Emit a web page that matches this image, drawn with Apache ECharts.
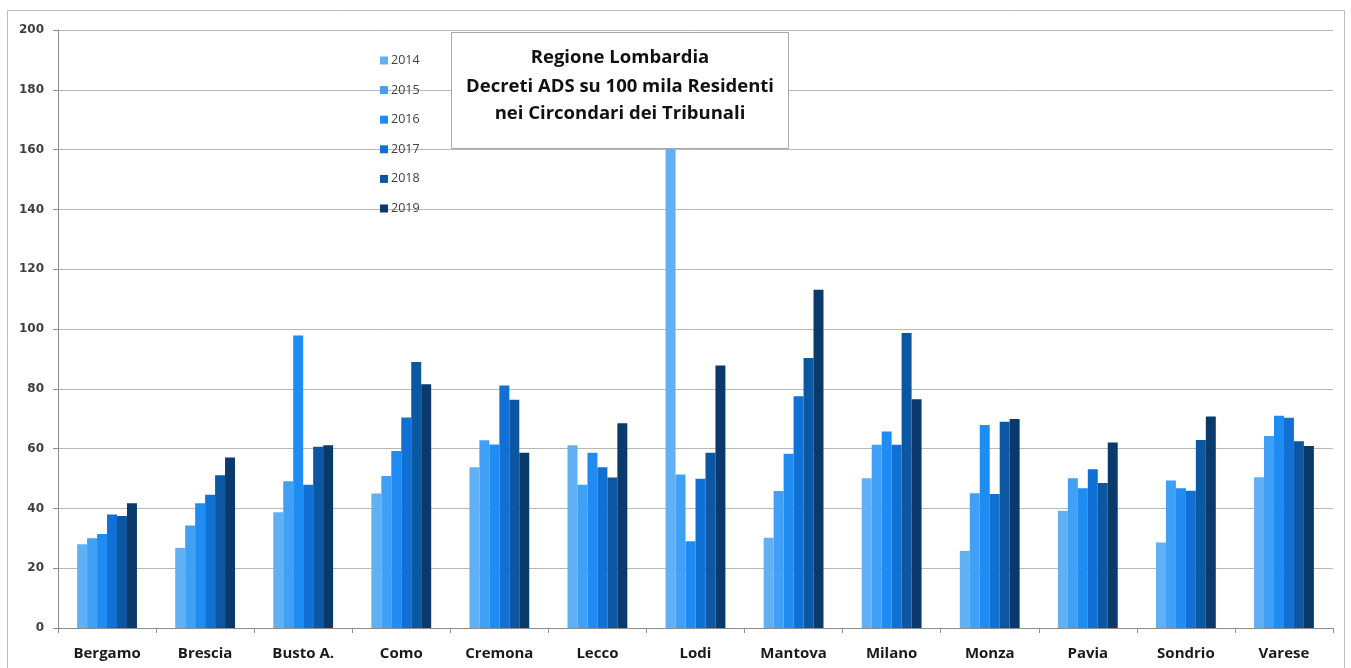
<!DOCTYPE html>
<html>
<head>
<meta charset="utf-8">
<script src="https://cdn.jsdelivr.net/npm/echarts@6/dist/echarts.min.js"></script>
<style>
html,body{margin:0;padding:0;background:#fff;}
#chart{width:1351px;height:668px;}
</style>
</head>
<body>
<div id="chart"></div>
<script>
const categories = ['Bergamo','Brescia','Busto A.','Como','Cremona','Lecco','Lodi','Mantova','Milano','Monza','Pavia','Sondrio','Varese'];
const years = ['2014','2015','2016','2017','2018','2019'];
const v2014 = [28.0, 26.8, 38.7, 45.0, 53.8, 61.1, 190, 30.2, 50.1, 25.8, 39.2, 28.6, 50.4];
const v2015 = [30.0, 34.3, 49.1, 50.8, 62.8, 47.9, 51.3, 45.8, 61.3, 45.1, 50.1, 49.3, 64.2];
const v2016 = [31.4, 41.7, 97.8, 59.2, 61.4, 58.6, 29.0, 58.3, 65.7, 67.9, 46.7, 46.7, 71.0];
const v2017 = [38.0, 44.6, 47.9, 70.4, 81.1, 53.8, 49.9, 77.5, 61.3, 44.8, 53.1, 45.9, 70.3];
const v2018 = [37.5, 51.1, 60.6, 89.0, 76.3, 50.3, 58.6, 90.3, 98.7, 69.0, 48.5, 62.9, 62.5];
const v2019 = [41.7, 57.0, 61.1, 81.5, 58.6, 68.5, 87.8, 113.1, 76.5, 69.9, 62.0, 70.7, 60.9];
const yTicks = [0, 20, 40, 60, 80, 100, 120, 140, 160, 180, 200];
const titleLines = ['Regione Lombardia', 'Decreti ADS su 100 mila Residenti', 'nei Circondari dei Tribunali'];

const seriesValues = [v2014, v2015, v2016, v2017, v2018, v2019];
const colors = ['#62b0f4', '#3fa0f5', '#1e8cf2', '#1170d4', '#0b57a2', '#0a3a6c'];

const chart = echarts.init(document.getElementById('chart'), null, {renderer: 'canvas'});
chart.setOption({
  animation: false,
  backgroundColor: '#ffffff',
  color: colors,
  grid: {left: 58, right: 18, top: 30, bottom: 40, containLabel: false, outerBoundsMode: 'none'},
  legend: {
    orient: 'vertical',
    left: 375,
    top: 47.5,
    itemWidth: 8,
    itemHeight: 8,
    itemGap: 13.6,
    itemStyle: {borderWidth: 0},
    selectedMode: false,
    icon: 'rect',
    textStyle: {fontFamily: 'Open Sans', fontSize: 12.5, color: '#404040', lineHeight: 16, padding: [0,0,0,-2]},
    data: years
  },
  xAxis: {
    type: 'category',
    data: categories,
    axisLine: {lineStyle: {color: '#8c8c8c', width: 1}},
    axisTick: {show: true, length: 5, interval: 0, lineStyle: {color: '#8c8c8c'}},
    axisLabel: {
      interval: 0, margin: 18,
      fontFamily: 'Open Sans', fontWeight: 'bold', fontSize: 15, color: '#1a1a1a'
    }
  },
  yAxis: {
    type: 'value',
    min: yTicks[0],
    max: yTicks[yTicks.length - 1],
    interval: yTicks[1] - yTicks[0],
    axisLine: {show: true, lineStyle: {color: '#8c8c8c', width: 1}},
    axisTick: {show: true, length: 5, lineStyle: {color: '#8c8c8c'}},
    splitLine: {show: true, lineStyle: {color: '#b8b8b8', width: 1}},
    axisLabel: {
      margin: 14,
      fontFamily: 'DejaVu Sans', fontWeight: 'bold', fontSize: 12, color: '#404040'
    }
  },
  series: years.map((y, i) => ({
    name: y,
    type: 'bar',
    data: seriesValues[i],
    barGap: '0%',
    barCategoryGap: '39%',
    clip: true,
    itemStyle: {color: colors[i]}
  })),
  graphic: [
    {
      type: 'rect', z: 0, silent: true,
      shape: {x: 7.5, y: 10.5, width: 1337, height: 670},
      style: {fill: null, stroke: '#bdbdbd', lineWidth: 1}
    },
    {
      type: 'group', z: 100,
      children: [
        {
          type: 'rect', z: 100,
          shape: {x: 451.5, y: 32.5, width: 337, height: 116},
          style: {fill: '#ffffff', stroke: '#a8a8a8', lineWidth: 1}
        },
        {
          type: 'text', z: 101,
          x: 620, y: 58,
          style: {text: titleLines[0], font: 'bold 18.5px "Open Sans"', fill: '#111', align: 'center', verticalAlign: 'middle'}
        },
        {
          type: 'text', z: 101,
          x: 620, y: 87,
          style: {text: titleLines[1], font: 'bold 18.5px "Open Sans"', fill: '#111', align: 'center', verticalAlign: 'middle'}
        },
        {
          type: 'text', z: 101,
          x: 620, y: 114,
          style: {text: titleLines[2], font: 'bold 18.5px "Open Sans"', fill: '#111', align: 'center', verticalAlign: 'middle'}
        }
      ]
    }
  ]
});
</script>
</body>
</html>
